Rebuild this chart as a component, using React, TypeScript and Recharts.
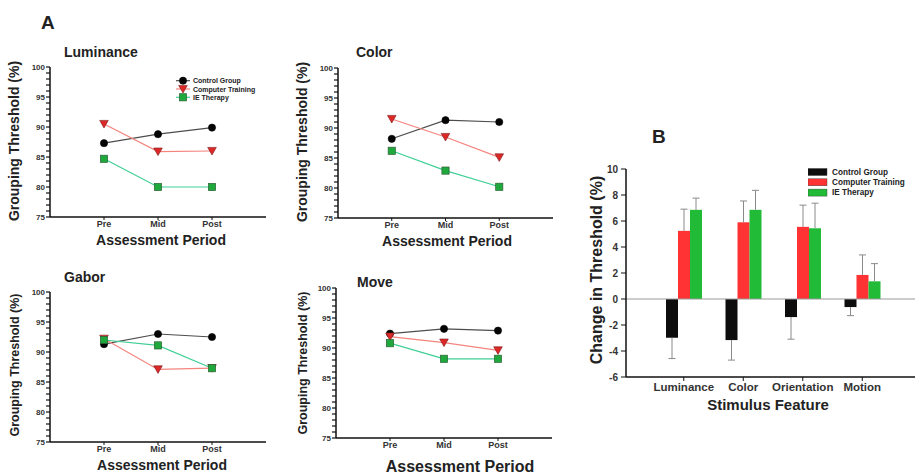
import React from 'react';
import {
  LineChart, Line, XAxis, YAxis, BarChart, Bar, ReferenceLine, Legend,
} from 'recharts';

const FONT = '"Liberation Sans", Arial, Helvetica, sans-serif';

// ---------- data ----------
const periods = ['Pre', 'Mid', 'Post'];

const luminanceControl = [87.3, 88.8, 89.9];
const luminanceComputer = [90.5, 85.9, 86.0];
const luminanceIE = [84.7, 80.0, 80.0];

const colorControl = [88.2, 91.3, 91.0];
const colorComputer = [91.5, 88.5, 85.1];
const colorIE = [86.2, 82.9, 80.2];

const gaborControl = [91.3, 93.0, 92.5];
const gaborComputer = [92.2, 87.1, 87.3];
const gaborIE = [92.0, 91.1, 87.3];

const moveControl = [92.4, 93.2, 92.9];
const moveComputer = [91.9, 90.9, 89.6];
const moveIE = [90.8, 88.2, 88.2];

const thresholdTicks = [75, 76, 77, 78, 79, 80, 81, 82, 83, 84, 85, 86, 87, 88, 89, 90, 91, 92, 93, 94, 95, 96, 97, 98, 99, 100];

const features = ['Luminance', 'Color', 'Orientation', 'Motion'];
const changeControl = [-2.98, -3.16, -1.39, -0.62];
const changeControlErr = [1.6, 1.54, 1.7, 0.66];
const changeComputer = [5.24, 5.9, 5.55, 1.85];
const changeComputerErr = [1.67, 1.64, 1.67, 1.54];
const changeIE = [6.86, 6.86, 5.44, 1.36];
const changeIEErr = [0.9, 1.5, 1.93, 1.36];
const changeTicks = [-6, -4, -2, 0, 2, 4, 6, 8, 10];

// ---------- styles ----------
const SERIES = [
  { key: 'control', name: 'Control Group', line: '#4d4d4d', fill: '#050505', stroke: '#000', shape: 'circle', bar: '#0d0d0d' },
  { key: 'computer', name: 'Computer Training', line: '#f4847e', fill: '#de2828', stroke: '#7a1a1a', shape: 'triangle', bar: '#ff3333' },
  { key: 'ie', name: 'IE Therapy', line: '#3fcf95', fill: '#1fa83c', stroke: '#2e5f38', shape: 'square', bar: '#22bb38' },
];

function marker(shape: string, cx: number, cy: number, fill: string, stroke: string, k?: any) {
  if (shape === 'circle') return <circle key={k} cx={cx} cy={cy} r={3.6} fill={fill} stroke={stroke} strokeWidth={0.6} />;
  if (shape === 'triangle')
    return <polygon key={k} points={`${cx - 4.3},${cy - 3.6} ${cx + 4.3},${cy - 3.6} ${cx},${cy + 4}`} fill={fill} stroke={stroke} strokeWidth={0.6} />;
  return <rect key={k} x={cx - 3.6} y={cy - 3.6} width={7.2} height={7.2} fill={fill} stroke={stroke} strokeWidth={0.7} />;
}

const makeDot = (s: any) => (props: any) => {
  const { cx, cy, index } = props;
  if (cx == null || cy == null) return <g key={index} />;
  return marker(s.shape, cx, cy, s.fill, s.stroke, `${s.key}-${index}`);
};

const YTick = (props: any) => {
  const { x, y, payload } = props;
  if (payload.value % 5 !== 0) return <g />;
  return (
    <text x={x} y={y} dy={3} textAnchor="end" fontSize={8} fontWeight="bold" fill="#333" fontFamily={FONT}>
      {payload.value}
    </text>
  );
};

const LineLegend = () => (
  <svg width={110} height={28}>
    {SERIES.map((s, i) => {
      const y = 4.7 + i * 8.3;
      return (
        <g key={s.key}>
          <line x1={0} x2={14} y1={y} y2={y} stroke={s.line} strokeWidth={1.2} />
          {marker(s.shape, 7, y, s.fill, s.stroke)}
          <text x={17} y={y + 2.5} fontSize={7} fontWeight="bold" fill="#222" fontFamily={FONT}>{s.name}</text>
        </g>
      );
    })}
  </svg>
);

const BarLegend = () => (
  <svg width={110} height={30}>
    {SERIES.map((s, i) => {
      const y = 4 + i * 10.3;
      return (
        <g key={s.key}>
          <rect x={0} y={y - 3.5} width={19} height={7} fill={s.bar} stroke="#333" strokeWidth={0.4} />
          <text x={24} y={y + 2.8} fontSize={8.2} fontWeight="bold" fill="#222" fontFamily={FONT}>{s.name}</text>
        </g>
      );
    })}
  </svg>
);

type PanelProps = {
  pl: number; pt: number; pw: number; ph: number;
  control: number[]; computer: number[]; ie: number[];
  legend?: boolean;
};

function LinePanel({ pl, pt, pw, ph, control, computer, ie, legend }: PanelProps) {
  const rows = periods.map((p, i) => ({ x: i + 1, period: p, control: control[i], computer: computer[i], ie: ie[i] }));
  return (
    <div style={{ position: 'absolute', left: pl - 50, top: pt - 20 }}>
      <LineChart width={50 + pw + 6} height={20 + ph + 30} data={rows} margin={{ top: 20, left: 20, right: 6, bottom: 0 }}>
        <XAxis
          type="number" dataKey="x" domain={[0, 4]} ticks={[1, 2, 3]}
          tickFormatter={(v: number) => periods[v - 1]}
          height={30} tickSize={3} tickMargin={1}
          axisLine={{ stroke: '#111', strokeWidth: 1.5 }} tickLine={{ stroke: '#111' }}
          tick={{ fontSize: 9, fontWeight: 'bold', fill: '#333', fontFamily: FONT }}
        />
        <YAxis
          type="number" domain={[75, 100]} ticks={thresholdTicks} interval={0}
          width={30} tickSize={4} tickMargin={1}
          axisLine={{ stroke: '#111', strokeWidth: 1.5 }} tickLine={{ stroke: '#111', strokeWidth: 1.2 }}
          tick={<YTick />}
        />
        {SERIES.map((s) => (
          <Line key={s.key} dataKey={s.key} name={s.name} stroke={s.line} strokeWidth={1.2}
            dot={makeDot(s)} activeDot={false} isAnimationActive={false} />
        ))}
        {legend && (
          <Legend layout="vertical" align="center" verticalAlign="middle"
            wrapperStyle={{ left: 176 - (pl - 50), top: 76 - (pt - 20), width: 110, height: 28 }}
            content={<LineLegend />} />
        )}
      </LineChart>
    </div>
  );
}

const makeBarShape = (fill: string) => (props: any) => {
  const { x, y, width, height, payload, dataKey } = props;
  const v = payload[dataKey];
  const err = payload[dataKey + 'Err'];
  const top = Math.min(y, y + height);
  const h = Math.abs(height);
  const ppu = v !== 0 ? h / Math.abs(v) : 0;
  const dir = v >= 0 ? -1 : 1;
  const cx = x + width / 2;
  const tipY = v >= 0 ? top : top + h;
  const endY = tipY + dir * err * ppu;
  return (
    <g>
      <rect x={x} y={top} width={width} height={h} fill={fill} />
      <line x1={cx} x2={cx} y1={tipY} y2={endY} stroke="#8a8a8a" strokeWidth={1} />
      <line x1={cx - 3.5} x2={cx + 3.5} y1={endY} y2={endY} stroke="#8a8a8a" strokeWidth={1} />
    </g>
  );
};

function ChangeChart() {
  const rows = features.map((f, i) => ({
    feature: f,
    control: changeControl[i], controlErr: changeControlErr[i],
    computer: changeComputer[i], computerErr: changeComputerErr[i],
    ie: changeIE[i], ieErr: changeIEErr[i],
  }));
  return (
    <div style={{ position: 'absolute', left: 560, top: 150 }}>
      <BarChart width={356} height={270} data={rows} margin={{ top: 19, right: 1, bottom: 18, left: 36 }} barGap={0} barSize={12}>
        <XAxis dataKey="feature" padding={{ left: 28, right: 23 }} height={25} tickSize={4} tickMargin={2}
          axisLine={{ stroke: '#111', strokeWidth: 1.5 }} tickLine={{ stroke: '#111' }}
          tick={{ fontSize: 11.5, fontWeight: 'bold', fill: '#333', fontFamily: FONT }} interval={0} />
        <YAxis type="number" domain={[-6, 10]} ticks={changeTicks} interval={0} width={30} tickSize={5} tickMargin={3}
          axisLine={{ stroke: '#111', strokeWidth: 1.5 }} tickLine={{ stroke: '#111' }}
          tick={{ fontSize: 10, fontWeight: 'bold', fill: '#333', fontFamily: FONT }} />
        <ReferenceLine y={0} stroke="#9a9a9a" strokeWidth={1} />
        {SERIES.map((s) => (
          <Bar key={s.key} dataKey={s.key} name={s.name} fill={s.bar} shape={makeBarShape(s.bar)} isAnimationActive={false} />
        ))}
        <Legend layout="vertical" align="center" verticalAlign="middle"
          wrapperStyle={{ left: 808 - 560, top: 168 - 150, width: 110, height: 30 }}
          content={<BarLegend />} />
      </BarChart>
    </div>
  );
}

function Txt({ x, cy, size, anchor = 'start', children }: any) {
  return (
    <text x={x} y={cy + size * 0.36} fontSize={size} fontWeight="bold" textAnchor={anchor} fill="#222" fontFamily={FONT}>
      {children}
    </text>
  );
}

function VTxt({ cx, cy, size, children }: any) {
  return (
    <text transform={`translate(${cx},${cy}) rotate(-90)`} x={0} y={size * 0.36} fontSize={size} fontWeight="bold"
      textAnchor="middle" fill="#222" fontFamily={FONT}>
      {children}
    </text>
  );
}

export default function App() {
  return (
    <div style={{ position: 'absolute', left: 0, top: 0, width: 916, height: 474, background: '#fff', overflow: 'hidden', fontFamily: FONT }}>
      <svg width={916} height={474} style={{ position: 'absolute', left: 0, top: 0 }}>
        <Txt x={41} cy={22} size={19}>A</Txt>
        <Txt x={652} cy={136} size={19}>B</Txt>
        <Txt x={64} cy={52} size={14}>Luminance</Txt>
        <Txt x={356} cy={52} size={14}>Color</Txt>
        <Txt x={64} cy={277} size={14}>Gabor</Txt>
        <Txt x={357} cy={282} size={14}>Move</Txt>
        <VTxt cx={14} cy={141} size={14}>Grouping Threshold (%)</VTxt>
        <VTxt cx={302} cy={142} size={14}>Grouping Threshold (%)</VTxt>
        <VTxt cx={14} cy={365} size={12.5}>Grouping Threshold (%)</VTxt>
        <VTxt cx={302} cy={363} size={12.5}>Grouping Threshold (%)</VTxt>
        <Txt x={161} cy={240} size={14} anchor="middle">Assessment Period</Txt>
        <Txt x={447} cy={241} size={14} anchor="middle">Assessment Period</Txt>
        <Txt x={162} cy={465} size={14} anchor="middle">Assessment Period</Txt>
        <Txt x={460} cy={466} size={16} anchor="middle">Assessment Period</Txt>
        <Txt x={768} cy={405} size={15} anchor="middle">Stimulus Feature</Txt>
        <VTxt cx={596} cy={270} size={16}>Change in Threshold (%)</VTxt>
      </svg>
      <LinePanel pl={50} pt={67} pw={216} ph={150} control={luminanceControl} computer={luminanceComputer} ie={luminanceIE} legend />
      <LinePanel pl={338} pt={68} pw={215} ph={150} control={colorControl} computer={colorComputer} ie={colorIE} />
      <LinePanel pl={50} pt={292} pw={216} ph={150} control={gaborControl} computer={gaborComputer} ie={gaborIE} />
      <LinePanel pl={336} pt={288} pw={216} ph={150} control={moveControl} computer={moveComputer} ie={moveIE} />
      <ChangeChart />
    </div>
  );
}
